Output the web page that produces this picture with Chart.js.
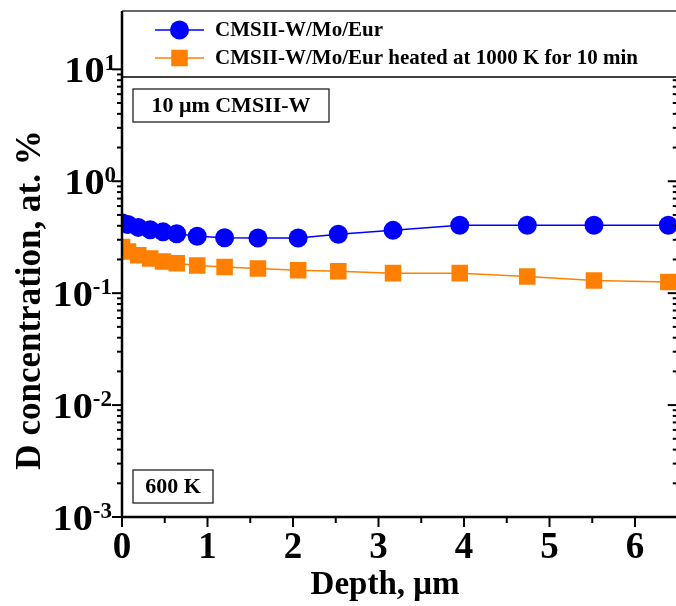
<!DOCTYPE html>
<html>
<head>
<meta charset="utf-8">
<script src="https://cdn.jsdelivr.net/npm/chart.js@4.4.1/dist/chart.umd.min.js"></script>
<style>
  html, body { margin: 0; padding: 0; background: #fff; overflow: hidden; }
  #wrap { width: 680px; height: 606px; }
</style>
</head>
<body>
<div id="wrap"><canvas id="depthChart" width="680" height="606"></canvas></div>
<script>
// depth profile, values
const depth = [0, 0.07, 0.19, 0.33, 0.48, 0.64, 0.88, 1.20, 1.59, 2.06, 2.53, 3.17, 3.95, 4.74, 5.52, 6.39];
const asImplanted = [0.425, 0.41, 0.387, 0.368, 0.353, 0.34, 0.322, 0.313, 0.311, 0.311, 0.336, 0.364, 0.404, 0.404, 0.404, 0.404];
const heated = [0.259, 0.236, 0.218, 0.204, 0.192, 0.185, 0.177, 0.171, 0.166, 0.160, 0.157, 0.151, 0.151, 0.141, 0.130, 0.126];

const seriesNames = ['CMSII-W/Mo/Eur', 'CMSII-W/Mo/Eur heated at 1000 K for 10 min'];
const xTicks = [0, 1, 2, 3, 4, 5, 6];
const yTickExps = [-3, -2, -1, 0, 1];
const notes = ['10 \u03bcm CMSII-W', '600 K'];

const SERIF = '"Liberation Serif", "Times New Roman", serif';
const BLUE = '#0000ff';
const ORANGE = '#ff8000';
const LEGEND_BOTTOM = 77;

function toPoints(xs, ys) {
    return xs.map((x, i) => ({ x: x, y: ys[i] }));
}

function line(ctx, x1, y1, x2, y2) {
    ctx.beginPath();
    ctx.moveTo(x1, y1);
    ctx.lineTo(x2, y2);
    ctx.stroke();
}

function drawMarker(ctx, ds, px, py) {
    ctx.fillStyle = ds.pointBackgroundColor;
    const r = ds.pointRadius;
    if (ds.pointStyle === 'rect') {
        const s = r * Math.SQRT1_2;
        ctx.fillRect(px - s, py - s, 2 * s, 2 * s);
    } else {
        ctx.beginPath();
        ctx.arc(px, py, r, 0, Math.PI * 2);
        ctx.fill();
    }
}

// axes frame, ticks, labels, legend and notes
const decorations = {
    id: 'decorations',
    afterDraw(chart) {
        const { ctx, chartArea: a, scales: { x, y } } = chart;
        ctx.save();

        // ticks
        ctx.strokeStyle = '#000';
        ctx.lineWidth = 2;
        for (let e = -3; e <= 1; e++) {
            for (let m = 1; m <= 9; m++) {
                if (e === 1 && m > 1) break;
                const py = y.getPixelForValue(m * Math.pow(10, e));
                const len = m === 1 ? 10 : 5;
                line(ctx, a.left - len, py, a.left, py);
                if (py > LEGEND_BOTTOM + 1) line(ctx, a.right - len, py, a.right, py);
            }
        }
        for (let t = 0; t <= 6.5; t += 0.5) {
            const px = x.getPixelForValue(t);
            const len = Number.isInteger(t) ? 10 : 6;
            line(ctx, px, a.bottom, px, a.bottom + len);
        }

        // legend box on top of plot
        ctx.fillStyle = '#fff';
        ctx.fillRect(a.left + 1, a.top, chart.width - a.left, LEGEND_BOTTOM - a.top);
        ctx.strokeStyle = '#666';
        ctx.lineWidth = 2;
        line(ctx, a.left, a.top, chart.width, a.top);
        ctx.strokeStyle = '#000';
        ctx.lineWidth = 1.5;
        line(ctx, a.left, LEGEND_BOTTOM, chart.width, LEGEND_BOTTOM);

        // axis lines
        ctx.lineWidth = 2.5;
        line(ctx, a.left, a.top, a.left, a.bottom + 1);
        line(ctx, a.left - 1, a.bottom, chart.width, a.bottom);
        line(ctx, a.right, a.top, a.right, a.bottom);

        // legend entries
        ctx.font = 'bold 21px ' + SERIF;
        ctx.textBaseline = 'middle';
        ctx.textAlign = 'left';
        chart.data.datasets.forEach((ds, i) => {
            const ly = 30 + i * 28;
            ctx.strokeStyle = ds.borderColor;
            ctx.lineWidth = 1.5;
            line(ctx, 155, ly, 204, ly);
            drawMarker(ctx, ds, 179.5, ly);
            ctx.fillStyle = '#000';
            ctx.fillText(ds.label, 215, ly + 1);
        });

        // note boxes
        ctx.font = 'bold 22px ' + SERIF;
        ctx.textAlign = 'center';
        ctx.strokeStyle = '#222';
        ctx.lineWidth = 1.3;
        const boxes = [[133, 89, 196, 33], [133, 470, 80, 33]];
        boxes.forEach((b, i) => {
            ctx.fillStyle = '#fff';
            ctx.fillRect(b[0], b[1], b[2], b[3]);
            ctx.strokeRect(b[0], b[1], b[2], b[3]);
            ctx.fillStyle = '#000';
            ctx.fillText(notes[i], b[0] + b[2] / 2, b[1] + b[3] / 2 + 1);
        });

        // x tick labels
        ctx.font = 'bold 37px ' + SERIF;
        ctx.textBaseline = 'alphabetic';
        xTicks.forEach(t => ctx.fillText(String(t), x.getPixelForValue(t), 558));

        // y tick labels 10^n
        yTickExps.forEach(e => {
            const py = y.getPixelForValue(Math.pow(10, e));
            const sup = String(e);
            const right = e < 0 ? 112 : 116;
            ctx.font = 'bold 23px ' + SERIF;
            const sw = ctx.measureText(sup).width;
            ctx.textAlign = 'right';
            ctx.fillText(sup, right, py + 1);
            ctx.save();
            ctx.translate(right - sw, py + 13);
            ctx.scale(1.15, 1);
            ctx.font = 'bold 35px ' + SERIF;
            ctx.fillText('10', 0, 0);
            ctx.restore();
        });

        // axis titles
        ctx.textAlign = 'center';
        ctx.font = 'bold 33px ' + SERIF;
        ctx.fillText('Depth, \u03bcm', 385, 594);
        ctx.save();
        ctx.translate(40, 300);
        ctx.rotate(-Math.PI / 2);
        ctx.font = 'bold 35px ' + SERIF;
        ctx.fillText('D concentration, at. %', 0, 0);
        ctx.restore();

        ctx.restore();
    }
};

new Chart(document.getElementById('depthChart'), {
    type: 'line',
    data: {
        datasets: [{
            label: seriesNames[0],
            data: toPoints(depth, asImplanted),
            borderColor: BLUE,
            borderWidth: 1.5,
            pointStyle: 'circle',
            pointRadius: 9.5,
            pointBackgroundColor: BLUE,
            pointBorderWidth: 0,
            clip: 0
        }, {
            label: seriesNames[1],
            data: toPoints(depth, heated),
            borderColor: ORANGE,
            borderWidth: 1.5,
            pointStyle: 'rect',
            pointRadius: 11.7,
            pointBackgroundColor: ORANGE,
            pointBorderWidth: 0,
            clip: 0
        }]
    },
    options: {
        responsive: false,
        animation: false,
        devicePixelRatio: 1,
        layout: { autoPadding: false, padding: { top: 11, right: 2.25, left: 0, bottom: 0 } },
        plugins: { legend: { display: false }, tooltip: { enabled: false } },
        scales: {
            x: {
                type: 'linear',
                min: 0,
                max: 6.5,
                ticks: { display: false },
                grid: { display: false },
                border: { display: false },
                afterFit: s => { s.height = 89; }
            },
            y: {
                type: 'logarithmic',
                min: 0.001,
                max: 33.2,
                ticks: { display: false },
                grid: { display: false },
                border: { display: false },
                afterFit: s => { s.width = 122; }
            }
        }
    },
    plugins: [decorations]
});
</script>
</body>
</html>
